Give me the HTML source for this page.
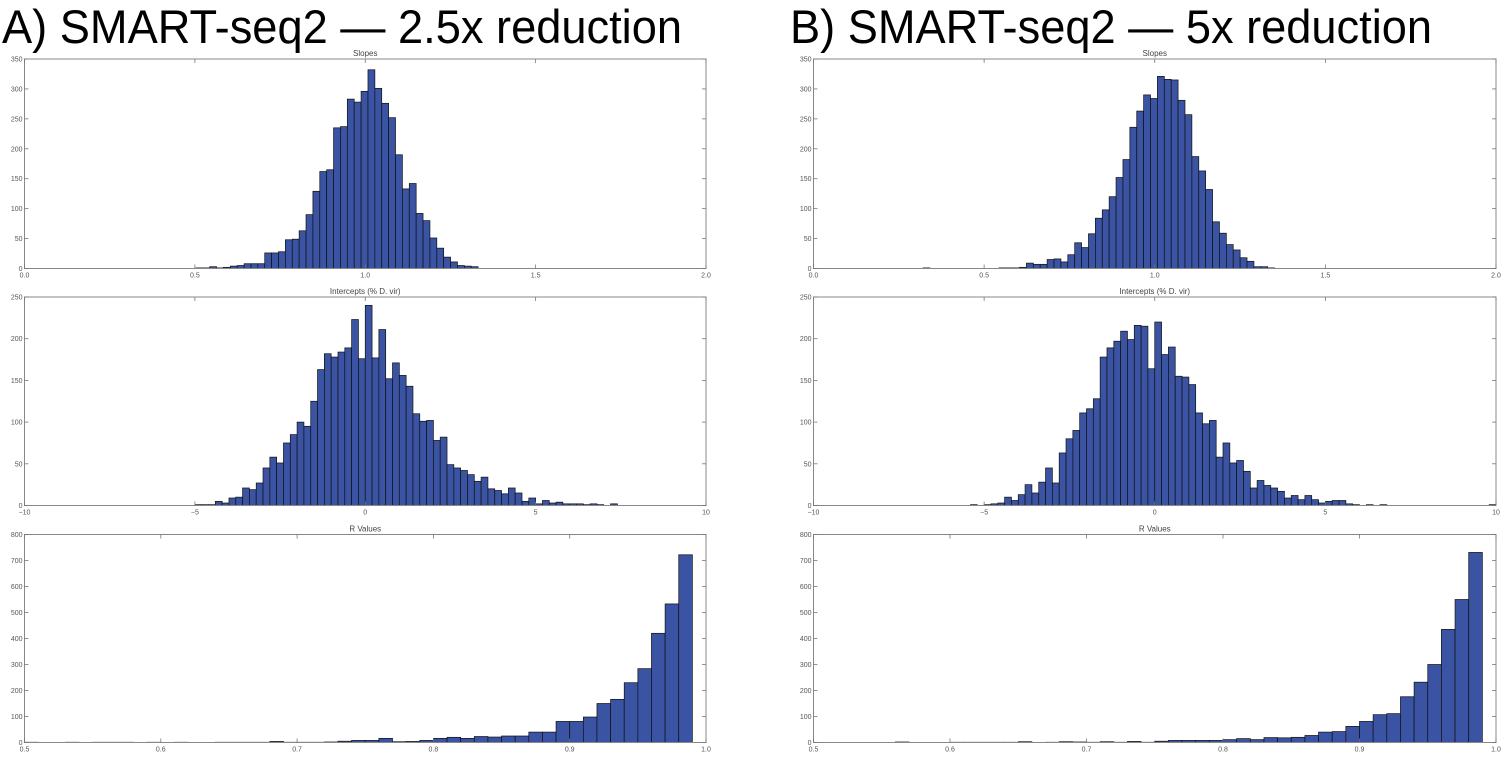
<!DOCTYPE html>
<html><head><meta charset="utf-8">
<style>
html,body{margin:0;padding:0;background:#fff;}
svg{display:block;}
</style></head>
<body>
<svg id="fig" width="1508" height="760" viewBox="0 0 1508 760" xmlns="http://www.w3.org/2000/svg" font-family="Liberation Sans, sans-serif">
<text x="2" y="43" font-size="47" textLength="680" lengthAdjust="spacingAndGlyphs" fill="#000">A) SMART-seq2 — 2.5x reduction</text>
<text x="790" y="43" font-size="47" textLength="642" lengthAdjust="spacingAndGlyphs" fill="#000">B) SMART-seq2 — 5x reduction</text>
</svg>
<script>
// ---- data ----
const slopesA = [1,1,3,1,2,4,5,8,8,8,26,26,28,48,49,63,90,129,162,165,235,237,283,278,296,332,301,276,252,190,133,142,92,80,51,34,19,11,5,4,3];
const slopesAStart = 0.503;
const slopesB = [1,0,0,0,0,0,0,0,0,0,0,1,1,1,2,9,7,7,15,16,11,23,43,35,58,84,98,120,152,182,236,263,290,284,321,316,315,281,257,187,163,132,78,59,40,31,18,12,3,3,1];
const slopesBStart = 0.321;
const slopeBinWidth = 0.0202;

const interceptsA = [1,1,1,5,3,9,10,21,19,27,45,58,51,75,85,100,95,125,163,182,178,184,189,223,176,240,177,211,152,171,156,143,110,101,102,78,82,49,45,42,37,29,34,20,18,14,21,15,5,9,2,6,3,4,2,2,2,1,2,1,0,2];
const interceptsAStart = -5.0;
const interceptsB = [1,0,1,2,3,10,6,13,25,15,28,45,27,63,80,90,111,116,128,178,189,197,209,199,216,215,164,220,181,190,155,154,145,111,98,102,58,75,51,54,41,21,30,24,21,17,9,12,7,12,7,3,5,6,6,2,1,0,1,0,1,0,0,0,0,0,0,0,0,0,0,0,0,0,0,0,1];
const interceptsBStart = -5.4;
const interceptBinWidth = 0.2;

const rA = [1,0,0,1,0,1,1,1,0,1,0,1,0,0,1,1,1,1,4,1,1,1,2,5,8,8,16,3,4,8,16,20,16,23,21,25,25,40,40,81,81,98,150,166,230,284,420,533,722];
const rB = [0,0,0,0,0,0,2,0,0,0,1,1,1,1,1,3,0,1,3,2,1,3,1,4,1,5,8,8,8,8,11,15,11,19,18,20,27,40,42,62,81,107,111,176,232,300,435,550,731];
const rStart = 0.50;
const rBinWidth = 0.01;

const slopeXTicks = [0.0,0.5,1.0,1.5,2.0];
const slopeXLabels = ["0.0","0.5","1.0","1.5","2.0"];
const slopeYTicks = [0,50,100,150,200,250,300,350];
const interceptXTicks = [-10,-5,0,5,10];
const interceptXLabels = ["−10","−5","0","5","10"];
const interceptYTicks = [0,50,100,150,200,250];
const rXTicks = [0.5,0.6,0.7,0.8,0.9,1.0];
const rXLabels = ["0.5","0.6","0.7","0.8","0.9","1.0"];
const rYTicks = [0,100,200,300,400,500,600,700,800];

const NS = "http://www.w3.org/2000/svg";
const svg = document.getElementById('fig');
function mk(tag, attrs, parent){
  const e = document.createElementNS(NS, tag);
  for (const k in attrs) e.setAttribute(k, attrs[k]);
  (parent||svg).appendChild(e);
  return e;
}

function drawHist(name, box, xmin, xmax, ymax, counts, start, bw, xticks, xlabels, yticks, title){
  const g = mk('g', {});
  
  
  const xs = v => box.x0 + (v - xmin) / (xmax - xmin) * (box.x1 - box.x0);
  const ys = v => box.y1 - v / ymax * (box.y1 - box.y0);
  for (let i = 0; i < counts.length; i++) {
    const c = counts[i];
    if (c <= 0) continue;
    const l = xs(start + i * bw), r = xs(start + (i + 1) * bw);
    const b = mk('rect', {x: l, y: ys(c), width: Math.max(r - l, 0.5), height: ys(0) - ys(c), fill: '#3a53a3', stroke: '#111', 'stroke-width': 0.7}, g);
    
    
  }
  const f = mk('rect', {x: box.x0, y: box.y0, width: box.x1 - box.x0, height: box.y1 - box.y0, fill: 'none', stroke: '#888', 'stroke-width': 1}, g);
  
  
  xticks.forEach((t, i) => {
    const x = xs(t);
    mk('line', {x1: x, x2: x, y1: box.y1, y2: box.y1 - 4, stroke: '#777', 'stroke-width': 0.8}, g);
    mk('line', {x1: x, x2: x, y1: box.y0, y2: box.y0 + 4, stroke: '#777', 'stroke-width': 0.8}, g);
    const tx = mk('text', {x: x, y: box.y1 + 9, 'font-size': 7, fill: '#555', 'text-anchor': 'middle'}, g);
    tx.textContent = xlabels[i];
    
    
  });
  yticks.forEach(t => {
    const y = ys(t);
    mk('line', {x1: box.x0, x2: box.x0 + 4, y1: y, y2: y, stroke: '#777', 'stroke-width': 0.8}, g);
    mk('line', {x1: box.x1, x2: box.x1 - 4, y1: y, y2: y, stroke: '#777', 'stroke-width': 0.8}, g);
    const ty = mk('text', {x: box.x0 - 2, y: y + 2.5, 'font-size': 7, fill: '#555', 'text-anchor': 'end'}, g);
    ty.textContent = String(t);
    
    
  });
  const tt = mk('text', {x: (box.x0 + box.x1) / 2, y: box.y0 - 3, 'font-size': 8, fill: '#444', 'text-anchor': 'middle'}, g);
  tt.textContent = title;
  
  
}

const A = {x0: 24.5, x1: 706};
const B = {x0: 813.5, x1: 1496};
const rows = [{y0: 59, y1: 268.5}, {y0: 297, y1: 505.5}, {y0: 534.5, y1: 742.5}];

drawHist('panel-a-slopes', {...A, ...rows[0]}, 0, 2, 350, slopesA, slopesAStart, slopeBinWidth, slopeXTicks, slopeXLabels, slopeYTicks, 'Slopes');
drawHist('panel-a-intercepts', {...A, ...rows[1]}, -10, 10, 250, interceptsA, interceptsAStart, interceptBinWidth, interceptXTicks, interceptXLabels, interceptYTicks, 'Intercepts (% D. vir)');
drawHist('panel-a-r-values', {...A, ...rows[2]}, 0.5, 1.0, 800, rA, rStart, rBinWidth, rXTicks, rXLabels, rYTicks, 'R Values');
drawHist('panel-b-slopes', {...B, ...rows[0]}, 0, 2, 350, slopesB, slopesBStart, slopeBinWidth, slopeXTicks, slopeXLabels, slopeYTicks, 'Slopes');
drawHist('panel-b-intercepts', {...B, ...rows[1]}, -10, 10, 250, interceptsB, interceptsBStart, interceptBinWidth, interceptXTicks, interceptXLabels, interceptYTicks, 'Intercepts (% D. vir)');
drawHist('panel-b-r-values', {...B, ...rows[2]}, 0.5, 1.0, 800, rB, rStart, rBinWidth, rXTicks, rXLabels, rYTicks, 'R Values');
</script>
</body></html>
